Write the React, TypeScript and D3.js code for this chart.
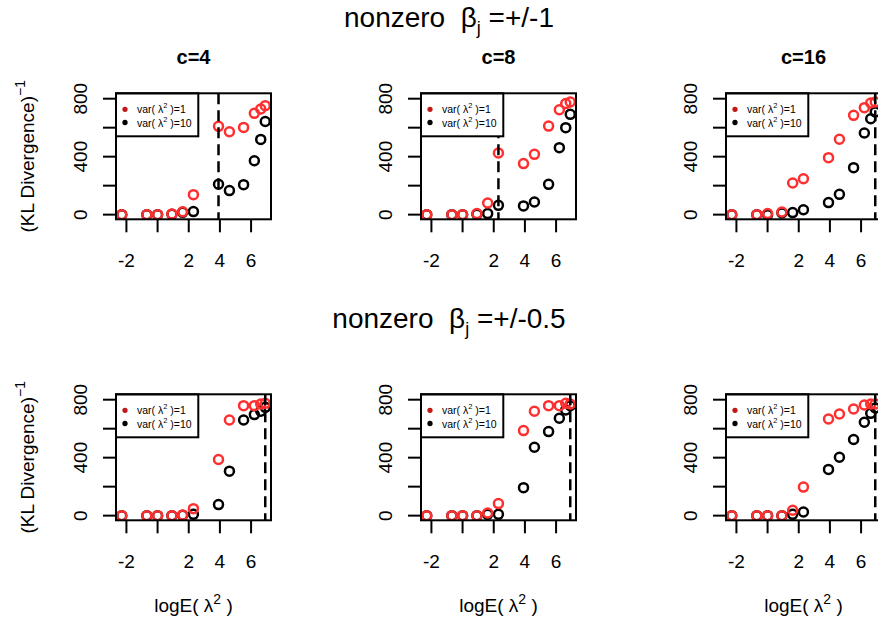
import React from "react";
import * as d3 from "d3";

// ---------- data ----------
const logLambda2 = [-2.3, -0.69, 0, 0.92, 1.61, 2.3, 3.91, 4.61, 5.52, 6.21, 6.62, 6.91];
const cLabels = ["c=4", "c=8", "c=16"];
const betaLabels = ["+/-1", "+/-0.5"];
const legendVars = ["1", "10"];

// beta = +/-1
const red_b1_c4 = [0, 0, 0, 5, 20, 138, 609, 572, 602, 699, 729, 752];
const black_b1_c4 = [0, 0, 0, 2, 16, 21, 210, 166, 207, 372, 519, 643];
const red_b1_c8 = [0, 0, 0, 7, 80, 425, 352, 416, 611, 724, 766, 777];
const black_b1_c8 = [0, 0, 0, 2, 7, 64, 60, 87, 209, 462, 600, 692];
const red_b1_c16 = [0, 0, 7, 18, 218, 248, 393, 520, 685, 738, 770, 777];
const black_b1_c16 = [0, 0, 0, 11, 14, 34, 83, 140, 324, 563, 662, 708];
// beta = +/-0.5
const red_b05_c4 = [0, 0, 0, 0, 5, 48, 387, 660, 759, 759, 770, 775];
const black_b05_c4 = [0, 0, 0, 0, 2, 9, 76, 307, 660, 697, 720, 747];
const red_b05_c8 = [0, 0, 0, 0, 18, 83, 587, 720, 759, 759, 775, 770];
const black_b05_c8 = [0, 0, 0, 0, 9, 9, 193, 472, 580, 672, 729, 759];
const red_b05_c16 = [0, 0, 0, 0, 37, 197, 667, 701, 736, 763, 770, 770];
const black_b05_c16 = [0, 0, 0, 0, 9, 25, 319, 403, 525, 644, 706, 743];

const redSeries = [
  [red_b1_c4, red_b1_c8, red_b1_c16],
  [red_b05_c4, red_b05_c8, red_b05_c16],
];
const blackSeries = [
  [black_b1_c4, black_b1_c8, black_b1_c16],
  [black_b05_c4, black_b05_c8, black_b05_c16],
];
const dashedX = [
  [3.91, 2.3, 6.91],
  [6.91, 6.91, 6.91],
];

const yTicks = [0, 200, 400, 600, 800];
const yTickLabels = ["0", "", "400", "", "800"];
const xTicks = [-2, 0, 2, 4, 6];
const xTickLabels = ["-2", "", "2", "4", "6"];
const yDataRange = [0, 805];

// ---------- layout ----------
const W = 878;
const H = 622;
const colLeft = [116, 421, 726];
const rowTop = [93.3, 394.3];
const PW = 155;
const PH = 126;
const FONT = "'Liberation Sans', Arial, Helvetica, sans-serif";
const RED = "#ff2f2f";
const TICK = 13;

function Panel({ row, col }: { row: number; col: number }) {
  const left = colLeft[col];
  const top = rowTop[row];
  const xmin = d3.min(logLambda2)!;
  const xmax = d3.max(logLambda2)!;
  const xpad = (xmax - xmin) * 0.04;
  const ypad = (yDataRange[1] - yDataRange[0]) * 0.04;
  const x = d3.scaleLinear().domain([xmin - xpad, xmax + xpad]).range([left, left + PW]);
  const y = d3
    .scaleLinear()
    .domain([yDataRange[0] - ypad, yDataRange[1] + ypad])
    .range([top + PH, top]);
  const reds = redSeries[row][col];
  const blacks = blackSeries[row][col];
  const dx = x(dashedX[row][col]);
  const clipId = `clip-${row}-${col}`;
  const legW = 82.3;
  const legH = 43;
  return (
    <g>
      <defs>
        <clipPath id={clipId}>
          <rect x={left} y={top} width={PW} height={PH} />
        </clipPath>
      </defs>
      <g clipPath={`url(#${clipId})`}>
        {blacks.map((v, i) => (
          <circle key={"b" + i} cx={x(logLambda2[i])} cy={y(v)} r={4.5} fill="none" stroke="#000" strokeWidth={2.5} />
        ))}
        {reds.map((v, i) => (
          <circle key={"r" + i} cx={x(logLambda2[i])} cy={y(v)} r={4.5} fill="none" stroke={RED} strokeWidth={2.5} />
        ))}
        <line x1={dx} x2={dx} y1={top} y2={top + PH} stroke="#000" strokeWidth={2.5} strokeDasharray="11,6" />
      </g>
      {/* legend */}
      <rect x={left} y={top} width={legW} height={legH} fill="#fff" stroke="#000" strokeWidth={2} />
      {legendVars.map((lv, i) => {
        const ly = top + 16 + i * 13.2;
        return (
          <g key={lv}>
            <circle cx={left + 9} cy={ly} r={2} fill={i === 0 ? "#c01818" : "#000"} stroke={i === 0 ? "#c01818" : "#000"} strokeWidth={1.3} />
            <text x={left + 21} y={ly + 4} fontSize={10.5} fontFamily={FONT} fill="#000" style={{ whiteSpace: "pre" }}>
              {"var( λ"}
              <tspan dy={-5} fontSize={7.5}>2</tspan>
              <tspan dy={5}>{" )=" + lv}</tspan>
            </text>
          </g>
        );
      })}
      {/* frame */}
      <rect x={left} y={top} width={PW} height={PH} fill="none" stroke="#000" strokeWidth={2} />
      {/* y axis ticks */}
      {yTicks.map((t, i) => (
        <g key={"yt" + t}>
          <line x1={left - TICK} x2={left} y1={y(t)} y2={y(t)} stroke="#000" strokeWidth={2} />
          {yTickLabels[i] && (
            <text
              transform={`translate(${left - 29.3},${y(t)}) rotate(-90)`}
              textAnchor="middle"
              fontSize={19}
              fontFamily={FONT}
              fill="#000"
            >
              {yTickLabels[i]}
            </text>
          )}
        </g>
      ))}
      {/* x axis ticks */}
      {xTicks.map((t, i) => (
        <g key={"xt" + t}>
          <line x1={x(t)} x2={x(t)} y1={top + PH} y2={top + PH + TICK} stroke="#000" strokeWidth={2} />
          {xTickLabels[i] && (
            <text x={x(t)} y={top + PH + 47.4} textAnchor="middle" fontSize={19} fontFamily={FONT} fill="#000">
              {xTickLabels[i]}
            </text>
          )}
        </g>
      ))}
      {row === 0 && (
        <text x={left + PW / 2} y={64} textAnchor="middle" fontSize={20} fontWeight="bold" fontFamily={FONT} fill="#000">
          {cLabels[col]}
        </text>
      )}
      {row === 1 && (
        <text x={left + PW / 2} y={612} textAnchor="middle" fontSize={19} fontFamily={FONT} fill="#000" style={{ whiteSpace: "pre" }}>
          {"logE( λ"}
          <tspan dy={-8} fontSize={14}>2</tspan>
          <tspan dy={8}>{" )"}</tspan>
        </text>
      )}
      {col === 0 && (
        <text
          transform={`translate(33.5,${top + PH / 2}) rotate(-90)`}
          textAnchor="middle"
          fontSize={19}
          fontFamily={FONT}
          fill="#000"
        >
          {"(KL Divergence)"}
          <tspan dy={-9} fontSize={14}>−1</tspan>
        </text>
      )}
    </g>
  );
}

export default function App() {
  const titleY = [27, 328];
  return (
    <div style={{ position: "absolute", left: 0, top: 0, width: W, height: H, background: "#fff" }}>
      <svg width={W} height={H} viewBox={`0 0 ${W} ${H}`} style={{ display: "block" }}>
        <rect x={0} y={0} width={W} height={H} fill="#fff" />
        {betaLabels.map((b, r) => (
          <text
            key={b}
            x={449}
            y={titleY[r]}
            textAnchor="middle"
            fontSize={28}
            fontFamily={FONT}
            fill="#000"
            style={{ whiteSpace: "pre" }}
          >
            {"nonzero  β"}
            <tspan dy={7} fontSize={18}>j</tspan>
            <tspan dy={-7}>{" =" + b}</tspan>
          </text>
        ))}
        {[0, 1].map((r) => [0, 1, 2].map((c) => <Panel key={`${r}-${c}`} row={r} col={c} />))}
      </svg>
    </div>
  );
}
